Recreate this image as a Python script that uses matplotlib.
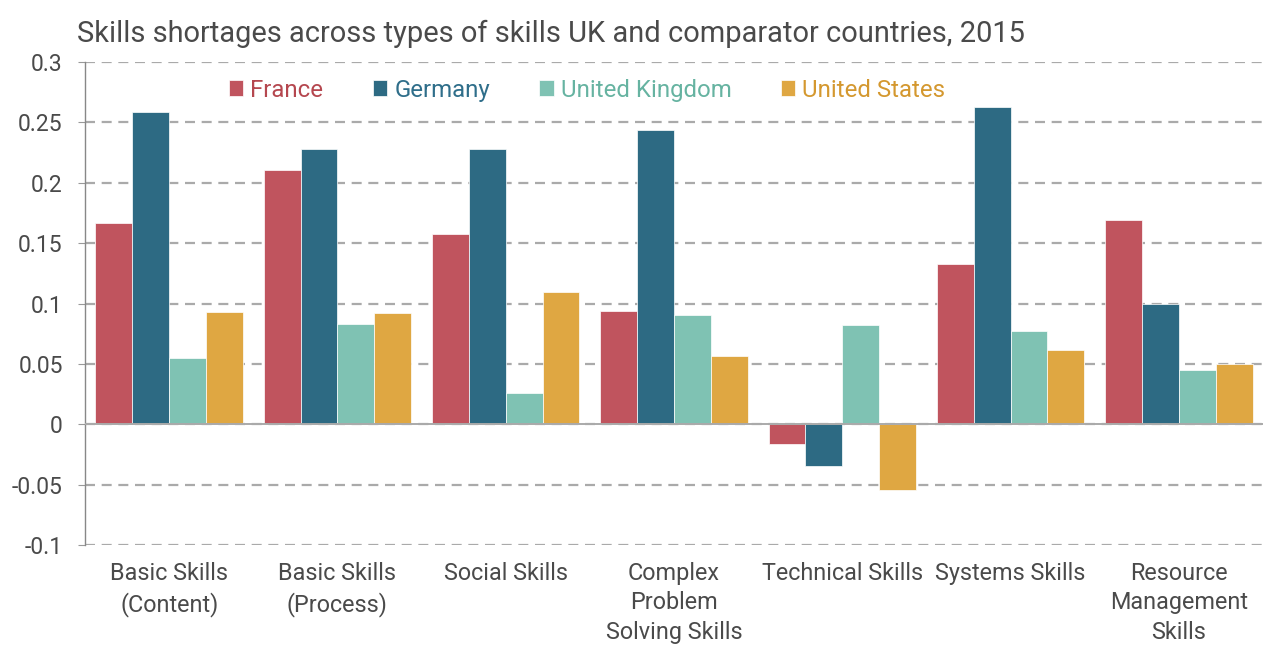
import numpy as np
import matplotlib.pyplot as plt
from matplotlib.ticker import FuncFormatter

plt.rcParams['font.family'] = ['Roboto', 'DejaVu Sans']

categories = ['Basic Skills\n(Content)', 'Basic Skills\n(Process)', 'Social Skills',
              'Complex\nProblem\nSolving Skills', 'Technical Skills', 'Systems Skills',
              'Resource\nManagement\nSkills']
countries = ['France', 'Germany', 'United Kingdom', 'United States']
france = [0.167, 0.211, 0.158, 0.094, -0.016, 0.133, 0.169]
germany = [0.259, 0.228, 0.228, 0.244, -0.034, 0.263, 0.100]
uk = [0.055, 0.083, 0.026, 0.091, 0.082, 0.077, 0.045]
us = [0.093, 0.092, 0.110, 0.057, -0.054, 0.062, 0.050]
yticks = [-0.1, -0.05, 0, 0.05, 0.1, 0.15, 0.2, 0.25, 0.3]

colors = ['#c0545e', '#2d6a83', '#7fc2b3', '#dfa742']
text_colors = ['#b5474f', '#2f6e8a', '#66b3a1', '#d4982f']
grey = '#4a4a4a'

fig = plt.figure(figsize=(12.63, 6.45), dpi=100)
ax = fig.add_axes([85/1263, (645-545.3)/645, 1178/1263, 483.3/645])

x = np.arange(len(categories))
w = 0.219
for i, (vals, c, name) in enumerate(zip([france, germany, uk, us], colors, countries)):
    ax.bar(x + (i - 1.5)*w, vals, w, color=c, edgecolor='white', linewidth=0.5,
           label=name, zorder=3)

ax.set_xlim(-0.5, len(categories) - 0.5)
ax.set_ylim(-0.1, 0.3)
ax.set_yticks(yticks)
ax.yaxis.set_major_formatter(FuncFormatter(lambda v, p: '%g' % round(v, 2)))
ax.set_xticks(x)
ax.set_xticklabels(categories, fontsize=16.8, color=grey, linespacing=1.36)
ax.tick_params(axis='x', length=0, pad=12)
ax.tick_params(axis='y', length=5, color='#999999', pad=11, labelsize=16.5,
               labelcolor=grey)

ax.grid(axis='y', color='#aaaaaa', linewidth=1.6, linestyle=(0, (4.5, 3)), zorder=0)
ax.axhline(0, color='#aaaaaa', linewidth=1.4, zorder=4)
for s in ['top', 'right', 'bottom']:
    ax.spines[s].set_visible(False)
ax.spines['left'].set_color('#888888')
ax.spines['left'].set_linewidth(1)

leg = ax.legend(ncol=4, loc='center left', bbox_to_anchor=(0.122, 0.942),
                frameon=False, fontsize=17.3, handlelength=0.6, handleheight=0.6,
                handletextpad=0.3, columnspacing=2.05, borderpad=0, borderaxespad=0)
for t, c in zip(leg.get_texts(), text_colors):
    t.set_color(c)

fig.text(77/1263, 1 - 42/645,
         'Skills shortages across types of skills UK and comparator countries, 2015',
         fontsize=20.9, color=grey, va='baseline', ha='left')

plt.savefig('out.png', dpi=100)
